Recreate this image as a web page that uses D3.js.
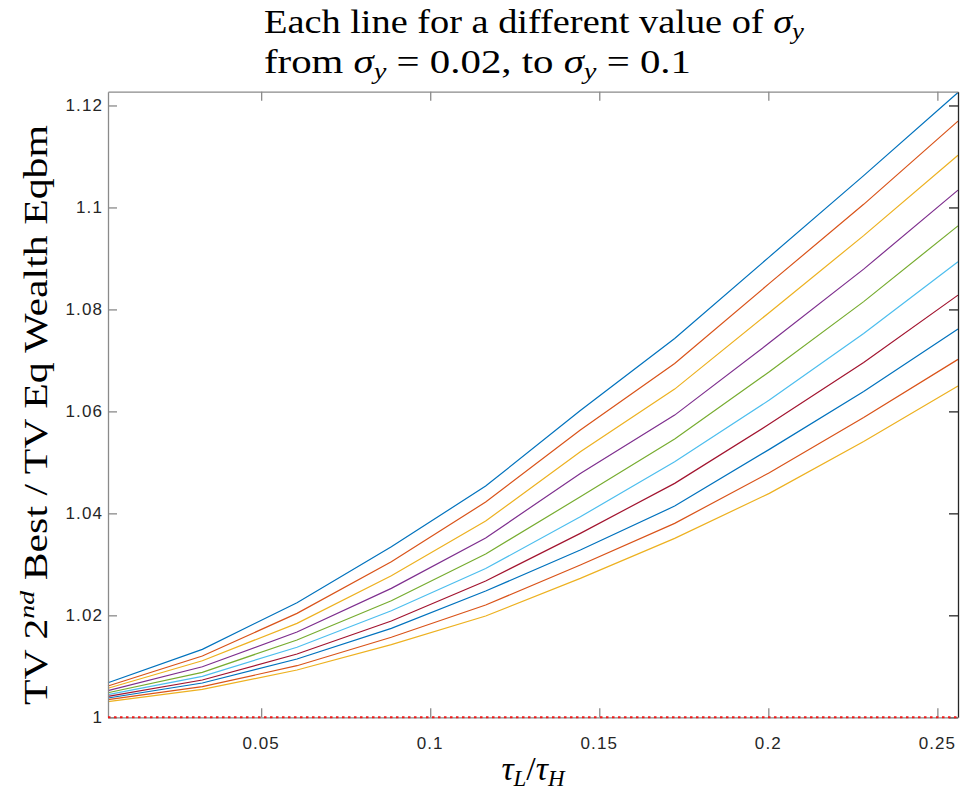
<!DOCTYPE html>
<html>
<head>
	<meta charset="utf-8">
	<title></title>
	<script src="https://d3js.org/d3.v7.min.js" charset="utf-8"></script>
	<style type="text/css">
		body {
			margin: 0;
			background: #ffffff;
		}

		svg text.tex {
			font-family: 'Liberation Serif', 'Times New Roman', serif;
			fill: #000000;
		}

		svg text.tick {
			font-family: 'Liberation Sans', Arial, sans-serif;
			font-size: 17px;
			letter-spacing: 1.1px;
			fill: #262626;
		}
	</style>
</head>
<body>
	<script type="text/javascript">
		var w = 969;
		var h = 793;

		// tau_L / tau_H sample points
		var xValues = [0.0047, 0.0326, 0.0606, 0.0885, 0.1164, 0.1444, 0.1723, 0.2003, 0.2282, 0.2561];

		// one line per sigma_y, top to bottom
		var sigmaY = [0.1, 0.0911, 0.0822, 0.0733, 0.0644, 0.0556, 0.0467, 0.0378, 0.0289, 0.02];

		var line1  = [1.00678, 1.01333, 1.02247, 1.03345, 1.04535, 1.06016, 1.07431, 1.09031, 1.10624, 1.12255];
		var line2  = [1.00614, 1.01202, 1.02039, 1.03051, 1.04222, 1.05633, 1.06941, 1.08510, 1.10061, 1.11692];
		var line3  = [1.00569, 1.01110, 1.01843, 1.02776, 1.03849, 1.05208, 1.06437, 1.07941, 1.09447, 1.11025];
		var line4  = [1.00522, 1.00992, 1.01673, 1.02529, 1.03516, 1.04784, 1.05927, 1.07345, 1.08790, 1.10339];
		var line5  = [1.00482, 1.00882, 1.01516, 1.02286, 1.03202, 1.04325, 1.05457, 1.06776, 1.08153, 1.09639];
		var line6  = [1.00443, 1.00804, 1.01373, 1.02090, 1.02918, 1.03933, 1.05012, 1.06222, 1.07529, 1.08933];
		var line7  = [1.00412, 1.00731, 1.01241, 1.01888, 1.02673, 1.03608, 1.04588, 1.05751, 1.06957, 1.08280];
		var line8  = [1.00378, 1.00673, 1.01143, 1.01745, 1.02476, 1.03280, 1.04143, 1.05255, 1.06388, 1.07614];
		var line9  = [1.00345, 1.00600, 1.01012, 1.01569, 1.02202, 1.02986, 1.03804, 1.04796, 1.05878, 1.07020];
		var line10 = [1.00306, 1.00549, 1.00927, 1.01424, 1.01986, 1.02725, 1.03510, 1.04392, 1.05408, 1.06496];

		// reference line at 1
		var baseline = [1, 1, 1, 1, 1, 1, 1, 1, 1, 1];

		var xTicks = [0.05, 0.1, 0.15, 0.2, 0.25];
		var yTicks = [1, 1.02, 1.04, 1.06, 1.08, 1.1, 1.12];

		var colors = ['#0072BD', '#D95319', '#EDB120', '#7E2F8E', '#77AC30', '#4DBEEE', '#A2142F'];

		var lines = [line1, line2, line3, line4, line5, line6, line7, line8, line9, line10];

		var pLeft = 108, pRight = 958, pTop = 91.7, pBottom = 717.3;

		var x = d3.scaleLinear().domain([0.0047, 0.2561]).range([pLeft, pRight]);
		var y = d3.scaleLinear().domain([1, 1.1227]).range([pBottom, pTop]);

		var svg = d3.select('body')
			.append('svg')
			.attr('width', w)
			.attr('height', h)
			.attr('viewBox', '0 0 ' + w + ' ' + h);

		svg.append('rect')
			.attr('width', w)
			.attr('height', h)
			.attr('fill', '#ffffff');

		var path = d3.line()
			.x(function (d, i) { return x(xValues[i]); })
			.y(function (d) { return y(d); });

		var plot = svg.append('g');

		plot.selectAll('path.series')
			.data(lines)
			.enter()
			.append('path')
			.attr('class', 'series')
			.attr('d', path)
			.attr('fill', 'none')
			.attr('stroke', function (d, i) { return colors[i % colors.length]; })
			.attr('stroke-width', 1.2);

		// box + ticks (MATLAB style, ticks inside)
		var axisColor = '#8a8a8a';

		var xAxisB = d3.axisBottom(x).tickValues(xTicks).tickSizeInner(-9).tickSizeOuter(0).tickFormat('');
		var xAxisT = d3.axisTop(x).tickValues(xTicks).tickSizeInner(-9).tickSizeOuter(0).tickFormat('');
		var yAxisL = d3.axisLeft(y).tickValues(yTicks).tickSizeInner(-9).tickSizeOuter(0).tickFormat('');
		var yAxisR = d3.axisRight(y).tickValues(yTicks).tickSizeInner(-9).tickSizeOuter(0).tickFormat('');

		function styleAxis(g, col) {
			g.selectAll('path').attr('stroke', col).attr('stroke-width', 1.3);
			g.selectAll('line').attr('stroke', col).attr('stroke-width', 1.3);
		}

		svg.append('g').attr('transform', 'translate(0,' + pTop + ')').call(xAxisT).call(styleAxis, axisColor);
		svg.append('g').attr('transform', 'translate(' + pRight + ',0)').call(yAxisR).call(styleAxis, '#262626');
		svg.append('g').attr('transform', 'translate(' + pLeft + ',0)').call(yAxisL).call(styleAxis, axisColor);
		svg.append('g').attr('transform', 'translate(0,' + pBottom + ')').call(xAxisB).call(styleAxis, axisColor);

		// dotted red line at 1
		svg.append('path')
			.datum(baseline)
			.attr('d', path)
			.attr('fill', 'none')
			.attr('stroke', '#f01818')
			.attr('stroke-width', 2)
			.attr('stroke-dasharray', '2.5,3.5');

		// tick labels
		svg.selectAll('text.xlab')
			.data(xTicks)
			.enter()
			.append('text')
			.attr('class', 'tick')
			.text(function (d) { return d3.format('~g')(d); })
			.attr('x', function (d) { return x(d); })
			.attr('y', pBottom + 32)
			.attr('text-anchor', 'middle');

		svg.selectAll('text.ylab')
			.data(yTicks)
			.enter()
			.append('text')
			.attr('class', 'tick')
			.text(function (d) { return d3.format('~g')(d); })
			.attr('x', pLeft - 5)
			.attr('y', function (d) { return y(d) + 6; })
			.attr('text-anchor', 'end');

		// title (two lines, left aligned block)
		var title1 = svg.append('text').attr('class', 'tex').style('font-size', '33px').attr('y', 33)
			.attr('textLength', 540).attr('lengthAdjust', 'spacingAndGlyphs');
		title1.append('tspan').text('Each line for a different value of ');
		title1.append('tspan').style('font-style', 'italic').text('σ');
		title1.append('tspan').style('font-style', 'italic').style('font-size', '23px').attr('dy', 6).text('y');

		var title2 = svg.append('text').attr('class', 'tex').style('font-size', '33px').attr('y', 73)
			.attr('textLength', 427).attr('lengthAdjust', 'spacingAndGlyphs');
		title2.append('tspan').text('from ');
		title2.append('tspan').style('font-style', 'italic').text('σ');
		title2.append('tspan').style('font-style', 'italic').style('font-size', '23px').attr('dy', 6).text('y');
		title2.append('tspan').attr('dy', -6).text(' = 0.02, to ');
		title2.append('tspan').style('font-style', 'italic').text('σ');
		title2.append('tspan').style('font-style', 'italic').style('font-size', '23px').attr('dy', 6).text('y');
		title2.append('tspan').attr('dy', -6).text(' = 0.1');

		title1.attr('x', 264);
		title2.attr('x', 264);

		// y label
		var ylab = svg.append('text')
			.attr('class', 'tex')
			.style('font-size', '33px')
			.attr('text-anchor', 'middle')
			.attr('textLength', 580).attr('lengthAdjust', 'spacingAndGlyphs')
			.attr('transform', 'translate(47,' + 415 + ') rotate(-90)');
		ylab.append('tspan').text('TV 2');
		ylab.append('tspan').style('font-style', 'italic').style('font-size', '22px').attr('dy', -13).text('nd');
		ylab.append('tspan').attr('dy', 13).text(' Best / TV Eq Wealth Eqbm');

		// x label
		var xlab = svg.append('text')
			.attr('class', 'tex')
			.style('font-size', '34px')
			.attr('text-anchor', 'middle')
			.attr('x', 533)
			.attr('y', 780);
		xlab.append('tspan').style('font-style', 'italic').text('τ');
		xlab.append('tspan').style('font-style', 'italic').style('font-size', '23px').attr('dy', 6).text('L');
		xlab.append('tspan').attr('dy', -6).text('/');
		xlab.append('tspan').style('font-style', 'italic').text('τ');
		xlab.append('tspan').style('font-style', 'italic').style('font-size', '23px').attr('dy', 6).text('H');
	</script>
</body>
</html>
